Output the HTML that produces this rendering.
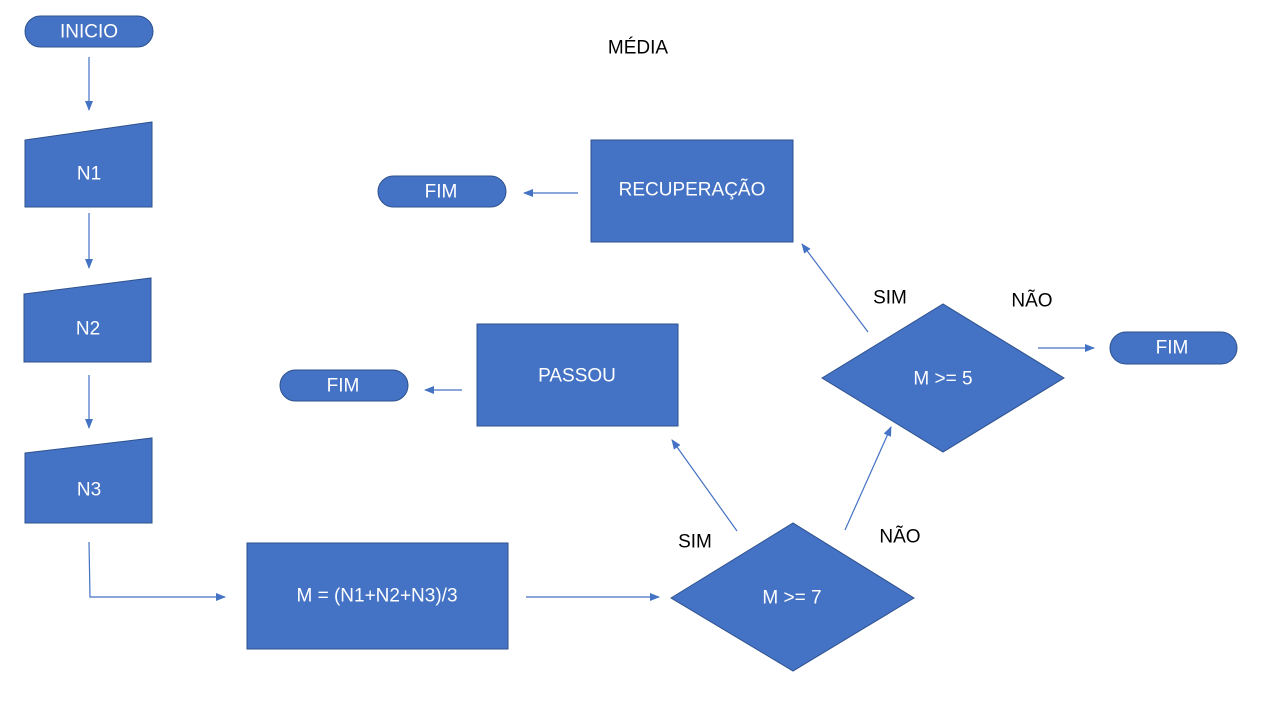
<!DOCTYPE html>
<html><head><meta charset="utf-8"><style>
html,body{margin:0;padding:0;background:#fff;width:1280px;height:720px;overflow:hidden}
text{font-family:"Liberation Sans",sans-serif;font-size:19px}
.w{fill:#fff;text-anchor:middle;dominant-baseline:central}
.b{fill:#000;text-anchor:middle;dominant-baseline:central}
.s{fill:#4472C4;stroke:#2F528F;stroke-width:1}
.a{stroke:#4472C4;stroke-width:1.2;fill:none;marker-end:url(#ah)}
</style></head><body>
<svg width="1280" height="720" xmlns="http://www.w3.org/2000/svg">
<defs><marker id="ah" markerWidth="10" markerHeight="8" refX="9" refY="4" orient="auto" markerUnits="userSpaceOnUse"><path d="M0,0L10,4L0,8z" fill="#4472C4"/></marker></defs>
<text class="b" x="638" y="48">MÉDIA</text>
<rect class="s" x="25" y="16" width="128" height="31" rx="15.5"/><text class="w" x="89" y="32">INICIO</text>
<path class="a" d="M89,57V110"/>
<polygon class="s" points="25,140 152,122 152,207 25,207"/><text class="w" x="89" y="174">N1</text>
<path class="a" d="M89,213V268"/>
<polygon class="s" points="24,294 151,278 151,362 24,362"/><text class="w" x="88" y="329">N2</text>
<path class="a" d="M89,375V428"/>
<polygon class="s" points="25,453 152,438 152,523 25,523"/><text class="w" x="89" y="490">N3</text>
<path class="a" d="M89,542L90,597H225"/>
<rect class="s" x="247" y="543" width="261" height="106"/><text class="w" x="377" y="596">M = (N1+N2+N3)/3</text>
<path class="a" d="M526,597H659"/>
<polygon class="s" points="671,598 793,523 914,598 793,671"/><text class="w" x="792" y="598">M &gt;= 7</text>
<path class="a" d="M737,531L672,440"/>
<text class="b" x="695" y="542">SIM</text>
<path class="a" d="M845,530L891,427"/>
<text class="b" x="900" y="537">NÃO</text>
<rect class="s" x="477" y="324" width="201" height="102"/><text class="w" x="577" y="376">PASSOU</text>
<path class="a" d="M462,390H425"/>
<rect class="s" x="280" y="370" width="128" height="31" rx="15.5"/><text class="w" x="343" y="386">FIM</text>
<polygon class="s" points="822,378 943,304 1064,378 943,452"/><text class="w" x="943" y="379">M &gt;= 5</text>
<path class="a" d="M868,332L802,244"/>
<text class="b" x="890" y="298">SIM</text>
<text class="b" x="1032" y="301">NÃO</text>
<path class="a" d="M1038,348H1094"/>
<rect class="s" x="1110" y="332" width="127" height="32" rx="16"/><text class="w" x="1172" y="348">FIM</text>
<rect class="s" x="591" y="140" width="202" height="102"/><text class="w" x="692" y="190">RECUPERAÇÃO</text>
<path class="a" d="M578,193H524"/>
<rect class="s" x="378" y="176" width="128" height="31" rx="15.5"/><text class="w" x="441" y="192">FIM</text>
</svg>
</body></html>
